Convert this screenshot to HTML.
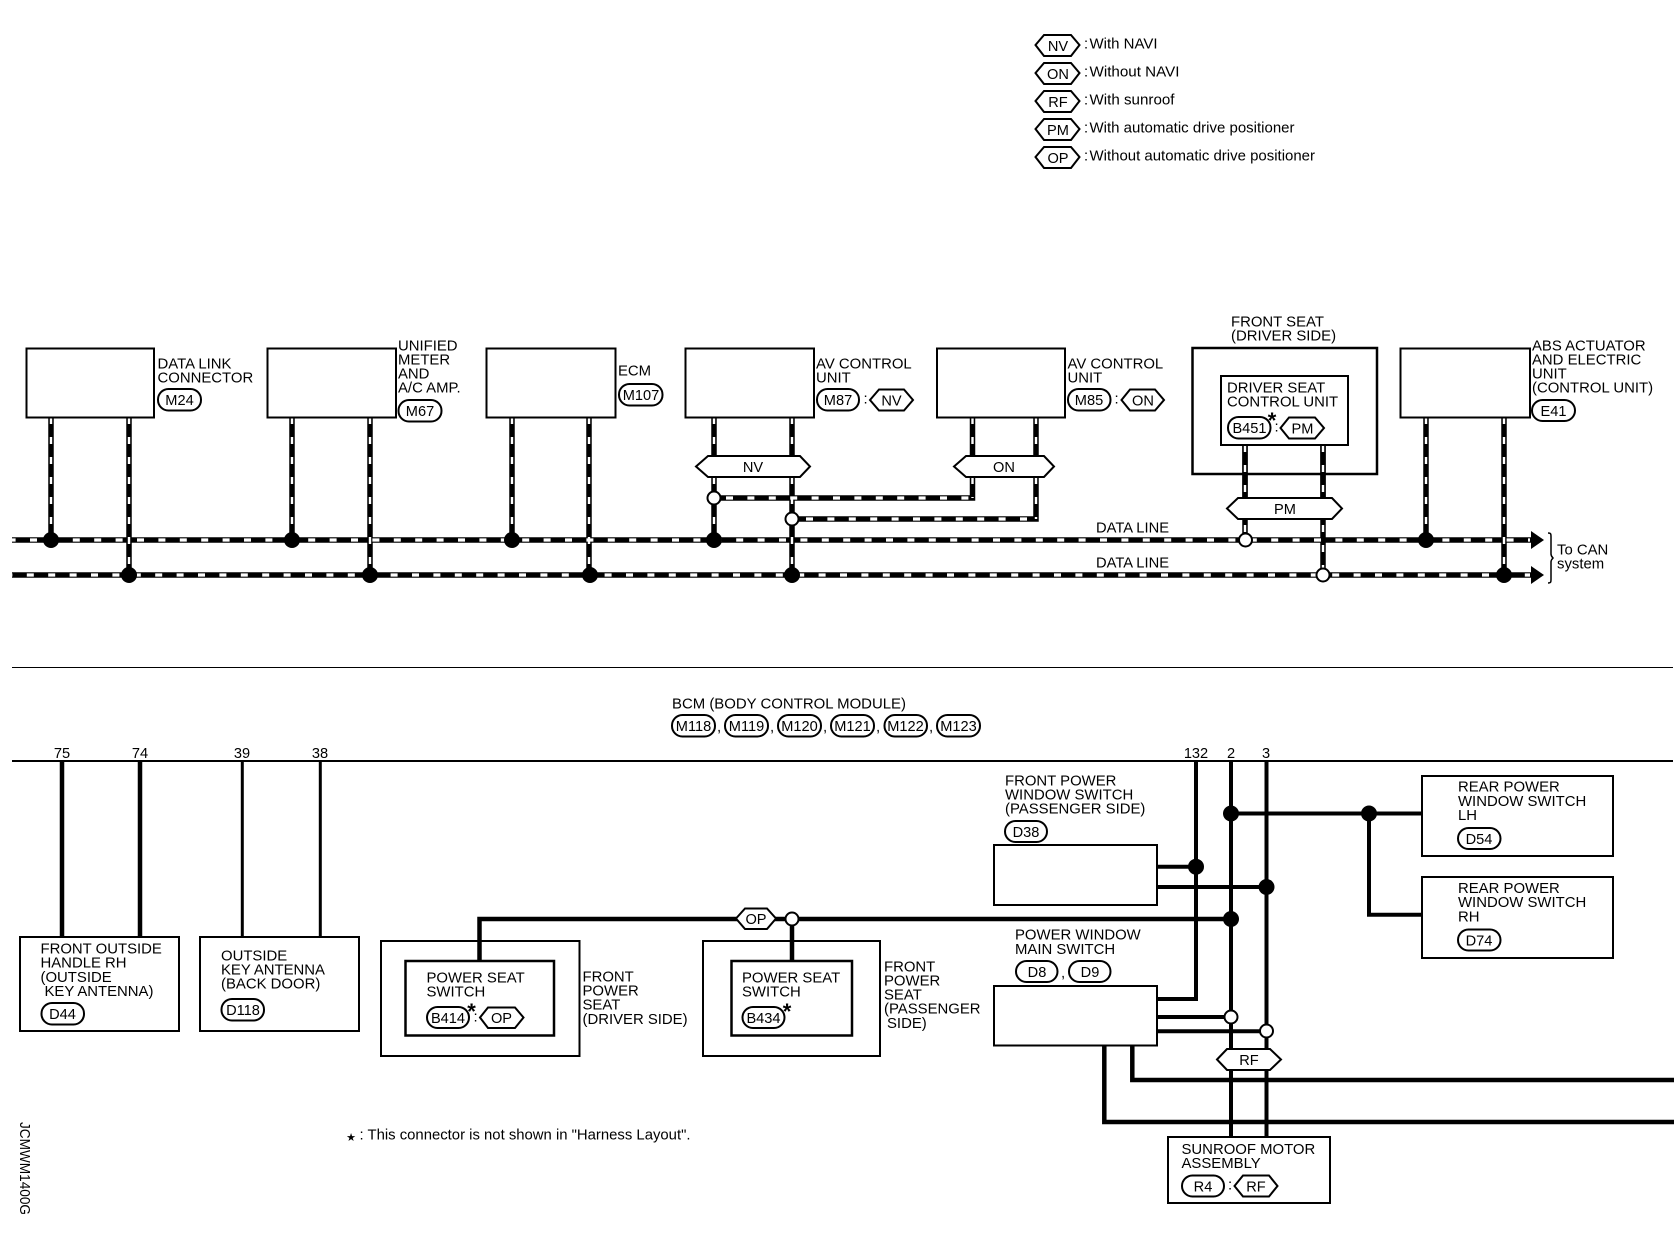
<!DOCTYPE html>
<html><head><meta charset="utf-8"><style>
html,body{margin:0;padding:0;background:#fff}
svg{display:block}
text{font-family:"Liberation Sans",sans-serif;font-size:14.9px;fill:#000}
text:not(.c):not(.r){transform:translate(-1px,-.5px)}
.c{font-size:14.6px;text-anchor:middle}
.n{font-size:14.6px}
.b{fill:#fff;stroke:#000;stroke-width:2}
.h{fill:#fff;stroke:#000;stroke-width:2}
.w{fill:none;stroke:#000;stroke-width:4.5}
.t{fill:none;stroke:#000;stroke-width:4}
.d{fill:none;stroke:#000;stroke-width:5.5}
.dv{fill:none;stroke:#fff;stroke-width:2.4;stroke-dasharray:7 13}
.dh{fill:none;stroke:#fff;stroke-width:3.2;stroke-dasharray:7 14.4}
.j{fill:#000}
.o{fill:#fff;stroke:#000;stroke-width:2}
.s{font-size:22px;font-weight:bold}
</style></head><body>
<svg width="1674" height="1248" viewBox="0 0 1674 1248" xmlns="http://www.w3.org/2000/svg">
<rect width="1674" height="1248" fill="#fff"/>

<!-- legend -->
<polygon class="h" points="1035.500,45 1044,35 1071,35 1079.500,45 1071,56 1044,56"/><text class="c" x="1058" y="51">NV</text><text x="1085" y="49" class="n">:</text><text x="1090.500" y="49" class="n" lengthAdjust="spacingAndGlyphs" textLength="68">With NAVI</text>
<polygon class="h" points="1035.500,73 1044,63 1071,63 1079.500,73 1071,84 1044,84"/><text class="c" x="1058" y="79">ON</text><text x="1085" y="77" class="n">:</text><text x="1090.500" y="77" class="n" lengthAdjust="spacingAndGlyphs" textLength="90">Without NAVI</text>
<polygon class="h" points="1035.500,101 1044,91 1071,91 1079.500,101 1071,112 1044,112"/><text class="c" x="1058" y="107">RF</text><text x="1085" y="105" class="n">:</text><text x="1090.500" y="105" class="n" lengthAdjust="spacingAndGlyphs" textLength="85">With sunroof</text>
<polygon class="h" points="1035.500,129 1044,119 1071,119 1079.500,129 1071,140 1044,140"/><text class="c" x="1058" y="135">PM</text><text x="1085" y="133" class="n">:</text><text x="1090.500" y="133" class="n" lengthAdjust="spacingAndGlyphs" textLength="205">With automatic drive positioner</text>
<polygon class="h" points="1035.500,157 1044,147 1071,147 1079.500,157 1071,168 1044,168"/><text class="c" x="1058" y="163">OP</text><text x="1085" y="161" class="n">:</text><text x="1090.500" y="161" class="n" lengthAdjust="spacingAndGlyphs" textLength="225.500">Without automatic drive positioner</text>

<!-- data wires -->
<path class="d" d="M12 540H1535M12 575H1535"/>
<path class="d" d="M51 417V540M129 417V575M292 417V540M370 417V575M512 417V540M589 417V575M714 417V540M792 417V575M1245 445V540M1323 445V575M1426 417V540M1504 417V575"/>
<path class="d" d="M714 498H972.500V417M792 519H1036V417"/>
<path class="dh" stroke-dashoffset="-18" d="M12 540H1530"/>
<path class="dh" stroke-dashoffset="-14.800" d="M12 575H1530"/>
<path class="dv" d="M51 417V540M129 417V575M292 417V540M370 417V575M512 417V540M589 417V575M714 417V540M792 417V575M1245 445V540M1323 445V575M1426 417V540M1504 417V575M972.500 417V498M1036 417V519"/>
<path class="dh" d="M726 498H970M806 519H1034"/>

<!-- top boxes -->
<rect class="b" x="26.500" y="348.500" width="127.500" height="69"/>
<rect class="b" x="267.500" y="348.500" width="128.500" height="69"/>
<rect class="b" x="486.500" y="348.500" width="129" height="69"/>
<rect class="b" x="685.500" y="348.500" width="128.500" height="69"/>
<rect class="b" x="937" y="348.500" width="128" height="69"/>
<rect class="b" x="1400.500" y="348.500" width="129.500" height="69"/>
<rect x="1192.500" y="348" width="184.500" height="126" fill="none" stroke="#000" stroke-width="2.500"/>
<path class="d" d="M1245 445V498M1323 445V498"/>
<path class="dv" d="M1245 445V498M1323 445V498"/>
<rect class="b" x="1221" y="376" width="127" height="69"/>

<!-- hexes on wires -->
<polygon class="h" points="696,466.500 708,456 800,456 810,466.500 800,477 708,477"/><text class="c" x="753" y="472">NV</text>
<polygon class="h" points="954,466.500 966,456 1044,456 1054,466.500 1044,477 966,477"/><text class="c" x="1004" y="472">ON</text>
<polygon class="h" points="1227,508.500 1238,498 1332,498 1342,508.500 1332,519 1238,519"/><text class="c" x="1285" y="514">PM</text>

<!-- junctions -->
<g class="j"><circle cx="51" cy="540" r="8"/><circle cx="292" cy="540" r="8"/><circle cx="512" cy="540" r="8"/><circle cx="714" cy="540" r="8"/><circle cx="1426" cy="540" r="8"/>
<circle cx="129" cy="575" r="8"/><circle cx="370" cy="575" r="8"/><circle cx="590" cy="575" r="8"/><circle cx="792" cy="575" r="8"/><circle cx="1504" cy="575" r="8"/></g>
<circle class="o" cx="714" cy="498" r="6.500"/><circle class="o" cx="792" cy="519" r="6.500"/><circle class="o" cx="1245.500" cy="540" r="6.500"/><circle class="o" cx="1323" cy="575" r="6.500"/>

<!-- arrows + brace -->
<polygon points="1531,531 1544,540 1531,549" fill="#000"/><polygon points="1531,566 1544,575 1531,584" fill="#000"/>
<path d="M1548 533c3 0 3 1 3 4v17c0 2 1 3 2 4c-1 1-2 2-2 4v17c0 3 0 4-3 4" fill="none" stroke="#000" stroke-width="1.500"/>
<text x="1558" y="555">To CAN</text><text x="1558" y="569">system</text>
<text x="1097" y="533" lengthAdjust="spacingAndGlyphs" textLength="73">DATA LINE</text><text x="1097" y="568" lengthAdjust="spacingAndGlyphs" textLength="73">DATA LINE</text>

<!-- top labels -->
<text x="158.500" y="369">DATA LINK</text><text x="158.500" y="383">CONNECTOR</text>
<rect class="o" x="158" y="389" width="43" height="21.500" rx="10.500"/><text class="c" x="179.500" y="405">M24</text>
<text x="399" y="351">UNIFIED</text><text x="399" y="365">METER</text><text x="399" y="379">AND</text><text x="399" y="393">A/C AMP.</text>
<rect class="o" x="398.500" y="400" width="43" height="21.500" rx="10.500"/><text class="c" x="420" y="416">M67</text>
<text x="619" y="376">ECM</text>
<rect class="o" x="619" y="384" width="43.500" height="21.500" rx="10.500"/><text class="c" x="641" y="400">M107</text>
<text x="817" y="369">AV CONTROL</text><text x="817" y="383">UNIT</text>
<rect class="o" x="817" y="389" width="42" height="21.500" rx="10.500"/><text class="c" x="838" y="405">M87</text><text x="864.500" y="404">:</text>
<polygon class="h" points="870,400 879,389.500 904,389.500 913,400 904,410.500 879,410.500"/><text class="c" x="891.500" y="405.500">NV</text>
<text x="1068.500" y="369">AV CONTROL</text><text x="1068.500" y="383">UNIT</text>
<rect class="o" x="1068" y="389" width="42.500" height="21.500" rx="10.500"/><text class="c" x="1089" y="405">M85</text><text x="1115.500" y="404">:</text>
<polygon class="h" points="1121.500,400 1130,389.500 1155,389.500 1164,400 1155,410.500 1130,410.500"/><text class="c" x="1143" y="405.500">ON</text>
<text x="1232" y="327">FRONT SEAT</text><text x="1232" y="341">(DRIVER SIDE)</text>
<text x="1228" y="393">DRIVER SEAT</text><text x="1228" y="407">CONTROL UNIT</text>
<rect class="o" x="1228" y="417" width="42.500" height="21.500" rx="10.500"/><text class="c" x="1249.500" y="433">B451</text>
<text class="c s" x="1272" y="428">*</text><text x="1275.500" y="432">:</text>
<polygon class="h" points="1280.500,428 1289,417.500 1315,417.500 1324,428 1315,438.500 1289,438.500"/><text class="c" x="1302.500" y="433.500">PM</text>
<text x="1533" y="351">ABS ACTUATOR</text><text x="1533" y="365">AND ELECTRIC</text><text x="1533" y="379">UNIT</text><text x="1533" y="393">(CONTROL UNIT)</text>
<rect class="o" x="1532" y="400" width="43" height="21" rx="10.500"/><text class="c" x="1553.500" y="416">E41</text>

<!-- separator & BCM -->
<path d="M12 667.500H1673" stroke="#000" stroke-width="1" fill="none"/>
<text x="673" y="709" lengthAdjust="spacingAndGlyphs" textLength="234">BCM (BODY CONTROL MODULE)</text>
<rect class="o" x="672" y="715" width="43" height="21.500" rx="10.500"/><text class="c" x="693.500" y="731">M118</text><text x="718" y="732">,</text>
<rect class="o" x="725" y="715" width="43" height="21.500" rx="10.500"/><text class="c" x="746.500" y="731">M119</text><text x="771" y="732">,</text>
<rect class="o" x="778" y="715" width="43" height="21.500" rx="10.500"/><text class="c" x="799.500" y="731">M120</text><text x="824" y="732">,</text>
<rect class="o" x="831" y="715" width="43" height="21.500" rx="10.500"/><text class="c" x="852.500" y="731">M121</text><text x="877" y="732">,</text>
<rect class="o" x="884.500" y="715" width="42.500" height="21.500" rx="10.500"/><text class="c" x="905.500" y="731">M122</text><text x="930" y="732">,</text>
<rect class="o" x="937" y="715" width="43" height="21.500" rx="10.500"/><text class="c" x="958.500" y="731">M123</text>
<path d="M12 761H1673" stroke="#000" stroke-width="2" fill="none"/>
<text class="c n" x="62" y="758">75</text><text class="c n" x="140" y="758">74</text><text class="c n" x="242" y="758">39</text><text class="c n" x="320" y="758">38</text>
<text class="c n" x="1196" y="758">132</text><text class="c n" x="1231" y="758">2</text><text class="c n" x="1266" y="758">3</text>

<!-- lower left -->
<path class="w" d="M62 761V937M140 761V937"/><path class="t" style="stroke-width:3" d="M242.300 761V937M320.300 761V937"/>
<rect class="b" x="20" y="937" width="159" height="94"/>
<rect class="b" x="200" y="937" width="159" height="94"/>
<text x="41.500" y="954">FRONT OUTSIDE</text><text x="41.500" y="968">HANDLE RH</text><text x="41.500" y="982.500">(OUTSIDE</text><text x="45.500" y="996.500">KEY ANTENNA)</text>
<rect class="o" x="41.500" y="1003" width="42.500" height="21.500" rx="10.500"/><text class="c" x="62.500" y="1019">D44</text>
<text x="222" y="961">OUTSIDE</text><text x="222" y="975">KEY ANTENNA</text><text x="222" y="989">(BACK DOOR)</text>
<rect class="o" x="221.500" y="999" width="42.500" height="21.500" rx="10.500"/><text class="c" x="243" y="1015">D118</text>
<text x="20" y="1122" transform="rotate(90 20 1122)" class="n r" lengthAdjust="spacingAndGlyphs" textLength="93">JCMWM1400G</text>
<text class="c" x="351" y="1141" style="font-family:'DejaVu Sans',sans-serif;font-size:11px">★</text>
<text x="360.500" y="1140" class="n" lengthAdjust="spacingAndGlyphs" textLength="331">: This connector is not shown in "Harness Layout".</text>

<!-- power seat -->
<path class="w" d="M479.500 961V919H738M774 919H1231M792 919V961"/>
<rect x="381" y="941" width="198.500" height="115" fill="none" stroke="#000" stroke-width="2"/>
<rect class="b" x="405.500" y="961" width="148.500" height="74.500" style="stroke-width:2.500"/>
<rect x="703" y="941" width="177" height="115" fill="none" stroke="#000" stroke-width="2"/>
<rect class="b" x="731.500" y="961" width="120.500" height="74.500" style="stroke-width:2.500"/>
<polygon class="h" points="736,918.500 745,908.500 767,908.500 776,918.500 767,929 745,929"/><text class="c" x="756" y="924">OP</text>
<circle class="o" cx="792" cy="919" r="6.500"/>
<text x="427.500" y="983">POWER SEAT</text><text x="427.500" y="997">SWITCH</text>
<rect class="o" x="427" y="1007" width="42" height="21" rx="10.500"/><text class="c" x="448" y="1023">B414</text>
<text class="c s" x="471.500" y="1019">*</text><text x="474.500" y="1022">:</text>
<polygon class="h" points="480,1017.500 488,1007.500 515,1007.500 523.500,1017.500 515,1028 488,1028"/><text class="c" x="501.500" y="1023">OP</text>
<text x="743" y="983">POWER SEAT</text><text x="743" y="997">SWITCH</text>
<rect class="o" x="742.500" y="1007" width="42" height="21" rx="10.500"/><text class="c" x="763.500" y="1023">B434</text>
<text class="c s" x="787" y="1019">*</text>
<text x="583.500" y="982">FRONT</text><text x="583.500" y="996">POWER</text><text x="583.500" y="1010">SEAT</text><text x="583.500" y="1024.500">(DRIVER SIDE)</text>
<text x="885" y="972">FRONT</text><text x="885" y="986">POWER</text><text x="885" y="1000">SEAT</text><text x="885" y="1014">(PASSENGER</text><text x="888" y="1028.500">SIDE)</text>

<!-- lower right wires -->
<path class="w" d="M1132.300 1045V1080H1674M1104.300 1045V1122H1674"/>
<path class="t" d="M1196 761V999H1157M1231 761V1137M1266.500 761V1137M1231 813.500H1421M1369 813.500V914.700H1421M1157 866.700H1196M1157 887H1266M1157 1017H1231M1157 1031.300H1266"/>
<rect class="b" x="994" y="845" width="163" height="60"/>
<rect class="b" x="994" y="986" width="163" height="59.500"/>
<rect class="b" x="1422" y="776" width="191" height="80"/>
<rect class="b" x="1422" y="877" width="191" height="81"/>
<rect class="b" x="1168" y="1137" width="162" height="66"/>
<g class="j"><circle cx="1231" cy="813.500" r="8"/><circle cx="1369" cy="813.500" r="8"/><circle cx="1196" cy="866.700" r="8"/><circle cx="1266.500" cy="887" r="8"/><circle cx="1231" cy="919" r="8"/></g>
<circle class="o" cx="1231" cy="1017" r="6.500"/><circle class="o" cx="1266.500" cy="1031" r="6.500"/>
<polygon class="h" points="1217,1059.500 1227,1049 1270,1049 1281,1059.500 1270,1070 1227,1070"/><text class="c" x="1249" y="1065">RF</text>
<text x="1006" y="786">FRONT POWER</text><text x="1006" y="800">WINDOW SWITCH</text><text x="1006" y="814">(PASSENGER SIDE)</text>
<rect class="o" x="1005" y="821" width="42" height="21" rx="10.500"/><text class="c" x="1026" y="837">D38</text>
<text x="1016" y="940">POWER WINDOW</text><text x="1016" y="954.500">MAIN SWITCH</text>
<rect class="o" x="1016" y="961" width="41.500" height="21" rx="10.500"/><text class="c" x="1037" y="977">D8</text><text x="1062" y="978">,</text>
<rect class="o" x="1069" y="961" width="41.500" height="21" rx="10.500"/><text class="c" x="1090" y="977">D9</text>
<text x="1459" y="792">REAR POWER</text><text x="1459" y="806.500">WINDOW SWITCH</text><text x="1459" y="820.500">LH</text>
<rect class="o" x="1458" y="828" width="42.500" height="21" rx="10.500"/><text class="c" x="1479" y="844">D54</text>
<text x="1459" y="893.500">REAR POWER</text><text x="1459" y="907.500">WINDOW SWITCH</text><text x="1459" y="922">RH</text>
<rect class="o" x="1458" y="929.500" width="42.500" height="21" rx="10.500"/><text class="c" x="1479" y="945.500">D74</text>
<text x="1182.500" y="1154.500">SUNROOF MOTOR</text><text x="1182.500" y="1168.500">ASSEMBLY</text>
<rect class="o" x="1182" y="1175.500" width="42" height="21" rx="10.500"/><text class="c" x="1203" y="1191.500">R4</text><text x="1229" y="1190">:</text>
<polygon class="h" points="1234.500,1186 1243,1175.500 1269,1175.500 1277.500,1186 1269,1196.500 1243,1196.500"/><text class="c" x="1256" y="1191.500">RF</text>
</svg>
</body></html>
